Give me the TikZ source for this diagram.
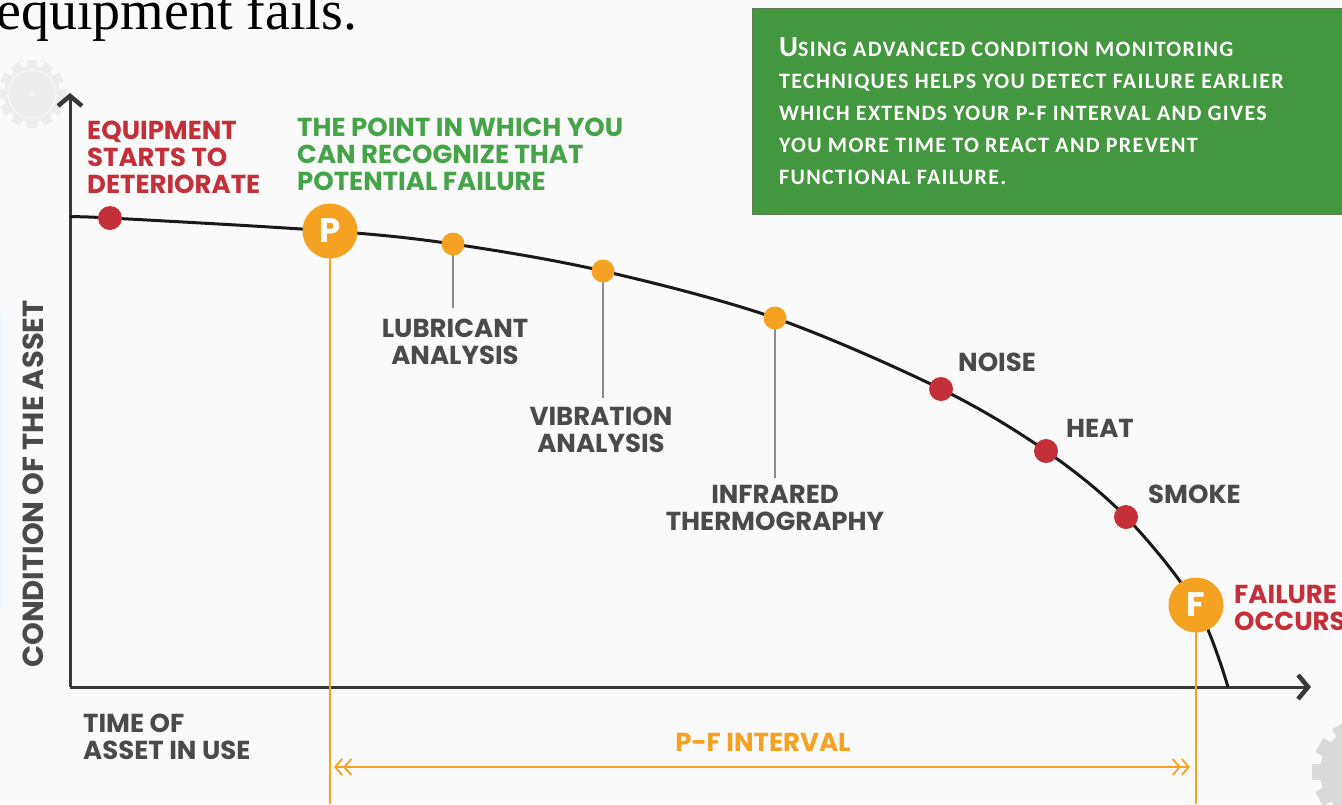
\documentclass[tikz,border=0pt]{standalone}
\usepackage{fontspec}
\setmainfont{Poppins}
\newfontfamily\boxfont{Carlito}[LetterSpace=6]
\newfontfamily\topserif{Liberation Serif}
\usetikzlibrary{arrows.meta}
\definecolor{bg}{HTML}{FAFAFA}
\definecolor{redc}{HTML}{C3303A}
\definecolor{greenc}{HTML}{45A447}
\definecolor{orangec}{HTML}{F5A122}
\definecolor{boxg}{HTML}{43983F}
\definecolor{boxedge}{HTML}{5E7A5C}
\definecolor{grayt}{HTML}{4A4A4A}
\definecolor{axisc}{HTML}{383838}
\definecolor{stemc}{HTML}{8A8A8A}
\definecolor{gearc}{HTML}{EDEDED}
\begin{document}
\begin{tikzpicture}[x=1pt,y=-1pt,
  lbl/.style={font=\bfseries\fontsize{26}{27}\selectfont, inner sep=0pt, align=left},
  lblc/.style={lbl, align=center, text=grayt, anchor=base},
  reddot/.style={circle, fill=redc, minimum size=24pt, inner sep=0pt},
  odot/.style={circle, fill=orangec, minimum size=23pt, inner sep=0pt},
  bigdot/.style={circle, fill=orangec, minimum size=55pt, inner sep=0pt, text=white, font=\bfseries\fontsize{34}{34}\selectfont},
  stem/.style={stemc, line width=2pt},
  vline/.style={orangec, line width=2.6pt},
  axis/.style={axisc, line width=3pt, -{Straight Barb[length=10pt,width=24pt,line width=4.5pt]}},
  curve/.style={black!90, line width=3pt},
  gear/.style={gearc}
]
\useasboundingbox[fill=bg] (0,0) rectangle (1342,804);

% faint gears
\fill[gear] (32,94) circle (28);
\foreach \a in {0,30,...,330}
  \fill[gear, shift={(32,94)}, rotate=\a] (-5,-34) rectangle (5,-24);
\draw[white!50!gearc, line width=1.5pt] (32,94) circle (24);
\fill[white!50!gearc] (32,94) circle (2);
\fill[gearc!92!black] (1366,772) circle (46);
\foreach \a in {0,30,...,330}
  \fill[gearc!92!black, shift={(1366,772)}, rotate=\a] (-8,-54) rectangle (8,-42);
\fill[cyan!6] (0,312) rectangle (3,608);

% top serif text (cut off)
\node[anchor=base west, inner sep=0pt, font=\topserif\fontsize{56}{60}\selectfont] (toptext) at (-4,29) {equipment fails.};

% green box
\node[draw=boxedge, fill=boxg, line width=1.2pt, minimum width=600pt, minimum height=206pt, anchor=north west, inner sep=0pt] (box) at (752,8) {};
\node[anchor=base west, inner sep=0pt, align=left, text=white, font=\boxfont\bfseries\fontsize{22}{31.8}\selectfont] (boxtext) at (779,184)
 {{\fontsize{29}{31.8}\selectfont U}SING ADVANCED CONDITION MONITORING\\
  TECHNIQUES HELPS YOU DETECT FAILURE EARLIER\\
  WHICH EXTENDS YOUR P-F INTERVAL AND GIVES\\
  YOU MORE TIME TO REACT AND PREVENT\\
  FUNCTIONAL FAILURE.};

% axes
\coordinate (O) at (70,687);
\coordinate (ytop) at (70,93);
\coordinate (xend) at (1311,687);
\draw[axis] (O) -- (ytop);
\draw[axis] (O) -- (xend);

% curve points
\coordinate (c0) at (70,217);
\coordinate (cE) at (110,218);
\coordinate (cP) at (330,231);
\coordinate (cL) at (453,244);
\coordinate (cV) at (603,271);
\coordinate (cI) at (775,318);
\coordinate (cN) at (941,389);
\coordinate (cH) at (1046,451);
\coordinate (cS) at (1126,517);
\coordinate (cF) at (1196,605);
\coordinate (c9) at (1228,687);
\draw[curve] plot[smooth, tension=0.55] coordinates {(c0) (cE) (cP) (cL) (cV) (cI) (cN) (cH) (cS) (cF) (c9)};

% stems
\coordinate (sL) at (453,308);
\coordinate (sV) at (603,398);
\coordinate (sI) at (775,478);
\draw[stem] (cL) -- (sL);
\draw[stem] (cV) -- (sV);
\draw[stem] (cI) -- (sI);

% P and F lines
\coordinate (pB) at (330,804);
\coordinate (fB) at (1196,804);
\draw[vline] (cP) -- (pB);
\draw[vline] (cF) -- (fB);

% dots
\node[reddot] (dE) at (cE) {};
\node[odot] (dL) at (cL) {};
\node[odot] (dV) at (cV) {};
\node[odot] (dI) at (cI) {};
\node[reddot] (dN) at (cN) {};
\node[reddot] (dH) at (cH) {};
\node[reddot] (dS) at (cS) {};
\node[bigdot] (P) at (cP) {P};
\node[bigdot] (F) at (cF) {F};

% P-F interval
\coordinate (pfl) at (334,767);
\coordinate (pfr) at (1190,767);
\draw[orangec, line width=1.8pt,
  {Straight Barb[length=7pt,width=16pt]Straight Barb[length=7pt,width=16pt]}-{Straight Barb[length=7pt,width=16pt]Straight Barb[length=7pt,width=16pt]}] (pfl) -- (pfr);
\node[lbl, text=orangec, anchor=base] (pf) at (763,751) {P-F INTERVAL};

% labels (base anchor = baseline of last line)
\node[lbl, text=redc, anchor=base west] (lE) at (87,193) {EQUIPMENT\\STARTS TO\\DETERIORATE};
\node[lbl, text=greenc, anchor=base west] (lP) at (297,190) {THE POINT IN WHICH YOU\\CAN RECOGNIZE THAT\\POTENTIAL FAILURE};
\node[lblc] (lL) at (455,364) {LUBRICANT\\ANALYSIS};
\node[lblc] (lV) at (601,452) {VIBRATION\\ANALYSIS};
\node[lblc] (lI) at (775,530) {INFRARED\\THERMOGRAPHY};
\node[lbl, text=grayt, anchor=base west] (lN) at (958,371) {NOISE};
\node[lbl, text=grayt, anchor=base west] (lH) at (1066,437) {HEAT};
\node[lbl, text=grayt, anchor=base west] (lS) at (1148,503) {SMOKE};
\node[lbl, text=redc, anchor=base west] (lF) at (1234,630) {FAILURE\\OCCURS};
\node[lbl, text=grayt, anchor=base west] (lT) at (83,759) {TIME OF\\ASSET IN USE};
\node[lbl, text=grayt, anchor=base, rotate=90, font=\bfseries\fontsize{29}{29}\selectfont] (lY) at (43,484) {CONDITION OF THE ASSET};
\end{tikzpicture}
\end{document}
